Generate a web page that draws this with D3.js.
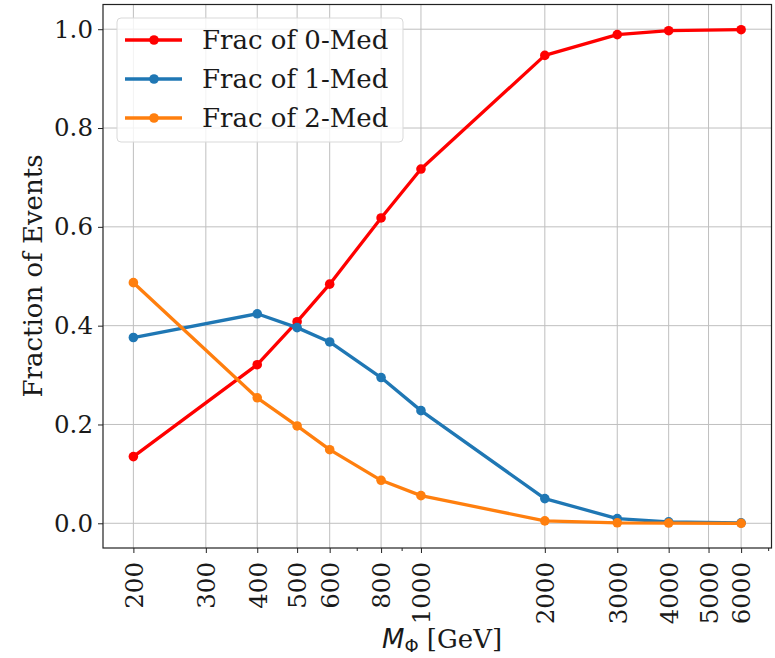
<!DOCTYPE html>
<html>
<head>
<meta charset="utf-8">
<script src="https://cdn.jsdelivr.net/npm/d3@7"></script>
<style>
  body { margin: 0; background: #fff; }
  svg text { font-family: "DejaVu Serif", serif; fill: #1a1a1a; }
</style>
</head>
<body>
<svg id="chart" width="775" height="658"></svg>
<script>
// Mediator mass points (GeV)
const masses = [200, 400, 500, 600, 800, 1000, 2000, 3000, 4000, 6000];
// Fraction of events with 0, 1, 2 mediators
const frac0 = [0.135, 0.321, 0.408, 0.484, 0.618, 0.717, 0.947, 0.989, 0.997, 0.999];
const frac1 = [0.376, 0.424, 0.396, 0.367, 0.295, 0.228, 0.050, 0.0095, 0.003, 0.001];
const frac2 = [0.487, 0.254, 0.197, 0.149, 0.087, 0.056, 0.005, 0.001, 0.0005, 0.0];
const seriesNames = ["Frac of 0-Med", "Frac of 1-Med", "Frac of 2-Med"];
const seriesColors = ["#ff0000", "#1f77b4", "#ff7f0e"];
const xTickValues = [200, 300, 400, 500, 600, 800, 1000, 2000, 3000, 4000, 5000, 6000];
const xMinorTicks = [700, 900, 7000];
const yTickValues = [0.0, 0.2, 0.4, 0.6, 0.8, 1.0];

const series = [frac0, frac1, frac2].map((vals, i) => ({
  name: seriesNames[i], color: seriesColors[i],
  points: masses.map((m, j) => ({ m, v: vals[j] }))
}));

const svg = d3.select("#chart");
const L = 103, R = 771.5, T = 4.5, B = 548;
const tickFont = 24.5, labelFont = 26, legendFont = 26;

// log x with 5% margin in log space, linear y with 5% margin
const lx0 = Math.log10(200), lx1 = Math.log10(6000), pad = (lx1 - lx0) * 0.05;
const x = d3.scaleLog().domain([Math.pow(10, lx0 - pad), Math.pow(10, lx1 + pad)]).range([L, R]);
const y = d3.scaleLinear().domain([-0.05, 1.05]).range([B, T]);

// grid
const grid = svg.append("g").attr("stroke", "#b0b0b0").attr("stroke-width", 1).attr("opacity", 0.8);
xTickValues.forEach(t => grid.append("line").attr("x1", x(t)).attr("x2", x(t)).attr("y1", T).attr("y2", B));
yTickValues.forEach(t => grid.append("line").attr("x1", L).attr("x2", R).attr("y1", y(t)).attr("y2", y(t)));

// x axis (rotated labels)
const xAxis = d3.axisBottom(x).tickValues(xTickValues).tickFormat(d3.format("d")).tickSizeOuter(0).tickSize(5);
const gx = svg.append("g").attr("transform", `translate(0,${B})`).call(xAxis);
gx.select(".domain").remove();
gx.selectAll("line").attr("stroke", "#222");
gx.selectAll(".tick text")
  .attr("font-size", tickFont)
  .attr("transform", "rotate(-90)")
  .attr("text-anchor", "end")
  .attr("x", -14).attr("y", 0).attr("dy", "0.36em");
const gxm = svg.append("g").attr("transform", `translate(0,${B})`);
xMinorTicks.forEach(t => gxm.append("line").attr("x1", x(t)).attr("x2", x(t)).attr("y1", 0).attr("y2", 3).attr("stroke", "#222"));

// y axis
const yAxis = d3.axisLeft(y).tickValues(yTickValues).tickFormat(d3.format(".1f")).tickSizeOuter(0).tickSize(5).tickPadding(5);
const gy = svg.append("g").attr("transform", `translate(${L},0)`).call(yAxis);
gy.select(".domain").remove();
gy.selectAll("text").attr("font-size", tickFont);
gy.selectAll("line").attr("stroke", "#222");

// frame
svg.append("rect").attr("x", L).attr("y", T).attr("width", R - L).attr("height", B - T)
  .attr("fill", "none").attr("stroke", "#222").attr("stroke-width", 1.2);

// series
const line = d3.line().x(d => x(d.m)).y(d => y(d.v));
series.forEach(s => {
  svg.append("path").datum(s.points).attr("d", line)
    .attr("fill", "none").attr("stroke", s.color).attr("stroke-width", 3.3).attr("stroke-linejoin", "round");
  svg.append("g").selectAll("circle").data(s.points).join("circle")
    .attr("cx", d => x(d.m)).attr("cy", d => y(d.v)).attr("r", 4.8).attr("fill", s.color);
});

// axis labels
svg.append("text").attr("transform", "translate(42,276) rotate(-90)")
  .attr("text-anchor", "middle").attr("font-size", labelFont).text("Fraction of Events");
const xl = svg.append("text").attr("x", 442).attr("y", 648).attr("text-anchor", "middle").attr("font-size", labelFont);
xl.append("tspan").attr("font-style", "italic").attr("font-family", "DejaVu Sans").text("M");
xl.append("tspan").attr("font-size", 18).attr("dy", 4).attr("font-family", "DejaVu Sans").text("Φ");
xl.append("tspan").attr("dy", -4).text(" [GeV]");

// legend
const lg = svg.append("g").attr("transform", "translate(117,18)");
lg.append("rect").attr("width", 286).attr("height", 124).attr("rx", 4)
  .attr("fill", "#fff").attr("fill-opacity", 0.8).attr("stroke", "#d9d9d9");
series.forEach((s, i) => {
  const yy = 22 + i * 39;
  lg.append("line").attr("x1", 8).attr("x2", 65).attr("y1", yy).attr("y2", yy)
    .attr("stroke", s.color).attr("stroke-width", 3.3);
  lg.append("circle").attr("cx", 37).attr("cy", yy).attr("r", 4.8).attr("fill", s.color);
  lg.append("text").attr("x", 85).attr("y", yy).attr("dy", "0.36em").attr("font-size", legendFont).text(s.name);
});
</script>
</body>
</html>
